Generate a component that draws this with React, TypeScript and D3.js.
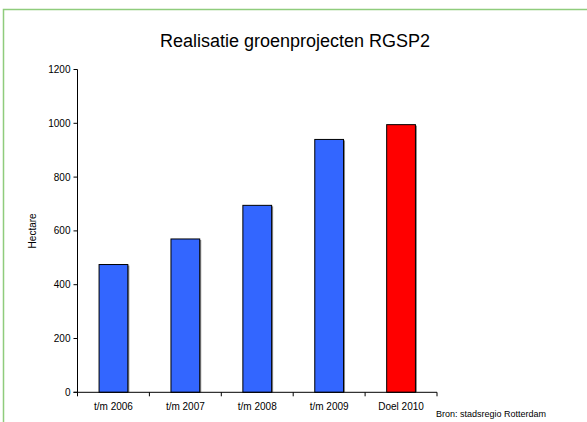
import React from 'react';
import * as d3 from 'd3';

const categories = ['t/m 2006', 't/m 2007', 't/m 2008', 't/m 2009', 'Doel 2010'];
const values = [475, 570, 695, 940, 995];
const barColors = ['#3366ff', '#3366ff', '#3366ff', '#3366ff', '#ff0000'];
const yTicks = [0, 200, 400, 600, 800, 1000, 1200];

const W = 587;
const H = 422;
const margin = { left: 77.5, right: 150, top: 69.5, bottom: 29.7 };

const App: React.FC = () => {
  const x = d3.scaleBand<string>()
    .domain(categories)
    .range([margin.left, W - margin.right]);
  const y = d3.scaleLinear()
    .domain([0, 1200])
    .range([H - margin.bottom, margin.top]);

  const barW = x.bandwidth() * 0.4;
  const font = "'Liberation Sans', Arial, sans-serif";
  const y0 = y(0);

  return (
    <svg width={W} height={H} style={{ position: 'absolute', left: 0, top: 0, fontFamily: font }}>
      <rect x={0} y={0} width={W} height={H} fill="#fff" />
      {/* green frame, right and bottom run off the page */}
      <rect x={3.5} y={9.5} width={W + 10} height={H + 10} fill="none" stroke="#8fcc7c" strokeWidth={1.5} />

      <text x={295} y={46.5} textAnchor="middle" fontSize={18} fill="#000">Realisatie groenprojecten RGSP2</text>

      {/* bars */}
      {categories.map((c, i) => {
        const bx = (x(c) as number) + (x.bandwidth() - barW) / 2;
        const by = y(values[i]);
        return (
          <g key={c}>
            <rect x={bx + 1.5} y={by + 1} width={barW} height={y0 - by - 1} fill="#888" />
            <rect x={bx} y={by} width={barW} height={y0 - by} fill={barColors[i]} stroke="#000" strokeWidth={1} />
          </g>
        );
      })}

      {/* y axis */}
      <line x1={margin.left} x2={margin.left} y1={y(1200)} y2={y0} stroke="#000" />
      {yTicks.map(t => (
        <g key={t}>
          <line x1={margin.left - 4} x2={margin.left} y1={y(t)} y2={y(t)} stroke="#000" />
          <text x={margin.left - 7} y={y(t)} dy="0.35em" textAnchor="end" fontSize={10}>{t}</text>
        </g>
      ))}
      <text transform={`translate(36,${(y(0) + y(1200)) / 2}) rotate(-90)`} textAnchor="middle" fontSize={10}>Hectare</text>

      {/* x axis */}
      <line x1={margin.left - 4} x2={W - margin.right} y1={y0} y2={y0} stroke="#000" />
      {[...categories.map(c => x(c) as number), W - margin.right].map((p, i) => (
        <line key={i} x1={p} x2={p} y1={y0} y2={y0 + 4} stroke="#000" />
      ))}
      {categories.map(c => (
        <text key={c} x={(x(c) as number) + x.bandwidth() / 2} y={y0 + 18} textAnchor="middle" fontSize={10}>{c}</text>
      ))}

      <text x={436} y={417} fontSize={9}>Bron: stadsregio Rotterdam</text>
    </svg>
  );
};

export default App;
